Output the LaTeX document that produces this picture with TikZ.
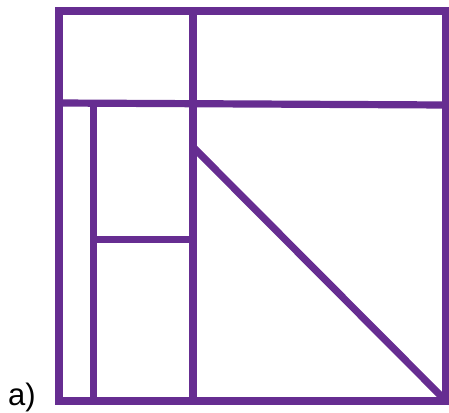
\documentclass[tikz,border=0pt]{standalone}
\usepackage{fontspec}
\setmainfont{Liberation Sans}
\usetikzlibrary{positioning}
\definecolor{framepurple}{HTML}{662D91}

\begin{document}
\begin{tikzpicture}[x=1pt,y=-1pt,wall/.style={line width=7.2pt,draw=framepurple}]
  \useasboundingbox (0,0) rectangle (449,412);
  \draw[wall] (59,11) rectangle (446,401); % outer square
  \draw[wall] (59,103) -- (446,105); \draw[wall] (193,11) -- (193,401); % main divisions
  \draw[wall] (93.5,103) -- (93.5,401);
  \draw[wall] (93.5,239.5) -- (193,239.5);
  \draw[wall] (193,147) -- (446,401); % diagonal to the corner
  \node[anchor=base west,inner sep=0pt,font=\fontsize{31}{36}\selectfont] (label) at (8,405){a)};
\end{tikzpicture}
\end{document}
